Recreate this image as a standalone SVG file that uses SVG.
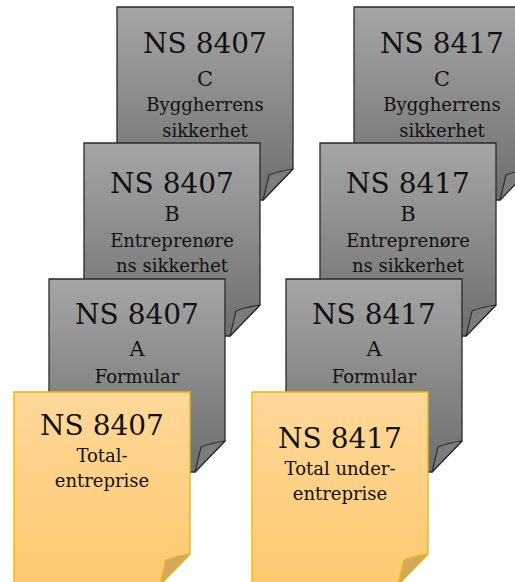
<svg xmlns="http://www.w3.org/2000/svg" xmlns:xlink="http://www.w3.org/1999/xlink" width="515" height="582" viewBox="0 0 515 582">
<style>
.gray .pg{fill:url(#gGray);stroke:#2a2a2a;stroke-width:1.3}
.gray .fd{fill:#7c7c7c;stroke:#2a2a2a;stroke-width:1.1;stroke-linejoin:round}
.tan .pg{fill:url(#gTan);stroke:#f0b400;stroke-width:1.3}
.tan .fd{fill:#d4a95f;stroke:#f0b400;stroke-width:1.1;stroke-linejoin:round}
text{font-family:"DejaVu Serif","Liberation Serif",serif;fill:#111;text-anchor:middle}
.t{font-size:28px}
.l{font-size:21px}
.d{font-size:18px}
</style>
<defs>
<linearGradient id="gGray" x1="0" y1="0" x2="0" y2="1">
<stop offset="0" stop-color="#a5a5a5"/>
<stop offset="1" stop-color="#6e6e6e"/>
</linearGradient>
<linearGradient id="gTan" x1="0" y1="0" x2="0" y2="1">
<stop offset="0" stop-color="#ffd899"/>
<stop offset="1" stop-color="#fcc96f"/>
</linearGradient>
<path id="page" d="M0,0 H176 V162 L146,193 H0 Z"/>
<path id="fold" d="M176,162 Q162,164 152,168 L146,193 Z"/>
</defs>

<g id="ns8407c" class="gray" transform="translate(117,7)">
<use xlink:href="#page" class="pg"/>
<use xlink:href="#fold" class="fd"/>
<text class="t" x="88" y="46">NS 8407</text>
<text class="l" x="88" y="79">C</text>
<text class="d" x="88" y="104">Byggherrens</text>
<text class="d" x="88" y="130">sikkerhet</text>
</g>
<g id="ns8417c" class="gray" transform="translate(354,7)">
<use xlink:href="#page" class="pg"/>
<use xlink:href="#fold" class="fd"/>
<text class="t" x="88" y="46">NS 8417</text>
<text class="l" x="88" y="79">C</text>
<text class="d" x="88" y="104">Byggherrens</text>
<text class="d" x="88" y="130">sikkerhet</text>
</g>

<g id="ns8407b" class="gray" transform="translate(84,143)">
<use xlink:href="#page" class="pg"/>
<use xlink:href="#fold" class="fd"/>
<text class="t" x="88" y="50">NS 8407</text>
<text class="l" x="88" y="78">B</text>
<text class="d" x="88" y="104">Entreprenøre</text>
<text class="d" x="88" y="129">ns sikkerhet</text>
</g>
<g id="ns8417b" class="gray" transform="translate(320,143)">
<use xlink:href="#page" class="pg"/>
<use xlink:href="#fold" class="fd"/>
<text class="t" x="88" y="50">NS 8417</text>
<text class="l" x="88" y="78">B</text>
<text class="d" x="88" y="104">Entreprenøre</text>
<text class="d" x="88" y="129">ns sikkerhet</text>
</g>

<g id="ns8407a" class="gray" transform="translate(49,279)">
<use xlink:href="#page" class="pg"/>
<use xlink:href="#fold" class="fd"/>
<text class="t" x="88" y="45">NS 8407</text>
<text class="l" x="88" y="77">A</text>
<text class="d" x="88" y="104">Formular</text>
</g>
<g id="ns8417a" class="gray" transform="translate(286,279)">
<use xlink:href="#page" class="pg"/>
<use xlink:href="#fold" class="fd"/>
<text class="t" x="88" y="45">NS 8417</text>
<text class="l" x="88" y="77">A</text>
<text class="d" x="88" y="104">Formular</text>
</g>

<g id="ns8407total" class="tan" transform="translate(14,392)">
<use xlink:href="#page" class="pg"/>
<use xlink:href="#fold" class="fd"/>
<text class="t" x="88" y="43">NS 8407</text>
<text class="d" x="88" y="70">Total-</text>
<text class="d" x="88" y="95">entreprise</text>
</g>
<g id="ns8417total" class="tan" transform="translate(252,392)">
<use xlink:href="#page" class="pg"/>
<use xlink:href="#fold" class="fd"/>
<text class="t" x="88" y="56">NS 8417</text>
<text class="d" x="88" y="83">Total under-</text>
<text class="d" x="88" y="108">entreprise</text>
</g>

<g id="connectors"></g>
</svg>
